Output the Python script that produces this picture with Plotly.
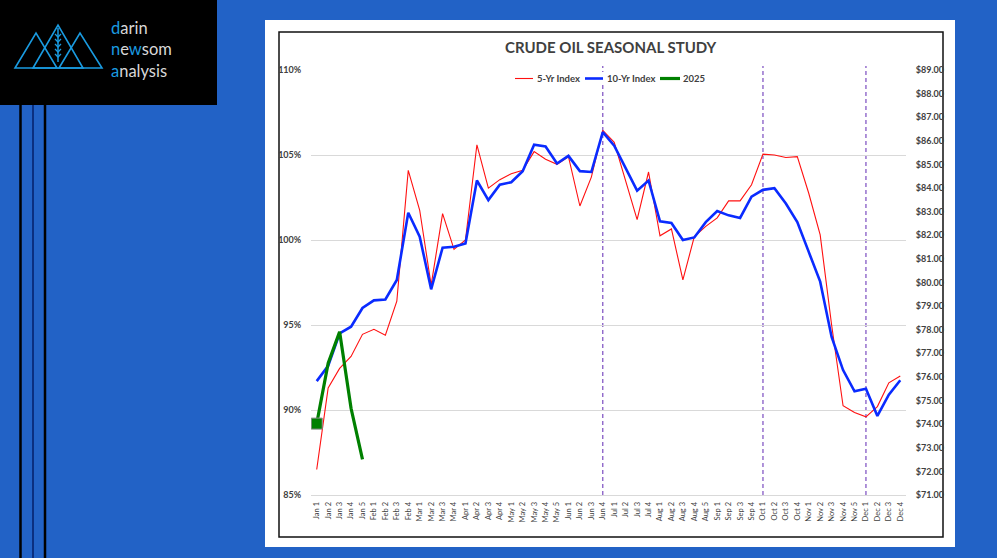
import plotly.graph_objects as go

weeks = ["Jan 1","Jan 2","Jan 3","Jan 4","Jan 5","Feb 1","Feb 2","Feb 3","Feb 4",
         "Mar 1","Mar 2","Mar 3","Mar 4","Apr 1","Apr 2","Apr 3","Apr 4",
         "May 1","May 2","May 3","May 4","May 5","Jun 1","Jun 2","Jun 3","Jun 4",
         "Jul 1","Jul 2","Jul 3","Jul 4","Aug 1","Aug 2","Aug 3","Aug 4","Aug 5",
         "Sep 1","Sep 2","Sep 3","Sep 4","Oct 1","Oct 2","Oct 3","Oct 4",
         "Nov 1","Nov 2","Nov 3","Nov 4","Nov 5","Dec 1","Dec 2","Dec 3","Dec 4"]

five_yr = [86.5, 91.3, 92.45, 93.15, 94.45, 94.75, 94.4, 96.4, 104.1, 101.75, 97.35, 101.55,
           99.45, 100.0, 105.6, 103.05, 103.55, 103.9, 104.1, 105.2, 104.75, 104.45, 104.9,
           102.0, 103.7, 106.45, 105.75, 103.5, 101.2, 104.0, 100.25, 100.65, 97.65, 100.2,
           100.8, 101.3, 102.3, 102.3, 103.25, 105.05, 105.0, 104.85, 104.9, 102.75, 100.3,
           95.0, 90.25, 89.85, 89.6, 90.2, 91.6, 92.0]

ten_yr = [91.7, 92.6, 94.5, 94.9, 96.0, 96.45, 96.5, 97.65, 101.6, 100.2, 97.1, 99.55, 99.6,
          99.8, 103.5, 102.35, 103.25, 103.4, 104.05, 105.6, 105.5, 104.5, 104.95, 104.05,
          104.0, 106.35, 105.55, 104.2, 102.9, 103.5, 101.1, 101.0, 100.0, 100.15, 101.05,
          101.7, 101.45, 101.3, 102.55, 102.95, 103.05, 102.15, 101.05, 99.3, 97.55, 94.3,
          92.35, 91.1, 91.25, 89.65, 90.9, 91.75]

y2025 = [89.2, 92.75, 94.6, 90.1, 87.1]

marker_weeks = ["Jun 4", "Oct 1", "Dec 1"]

pct_ticks = [85, 90, 95, 100, 105, 110]
pct_labels = ["85%", "90%", "95%", "100%", "105%", "110%"]
usd_ticks = list(range(71, 90))
usd_labels = ["$%d.00" % v for v in usd_ticks]

W, H = 997, 558
L, R, T, B = 311, 906, 70, 495


def px(x):
    return (x - L) / (R - L)


def py(y):
    return (B - y) / (B - T)


fig = go.Figure()

fig.add_trace(go.Scatter(x=weeks, y=five_yr, mode="lines", name="5-Yr Index",
                         line=dict(color="#FF1010", width=1.1), showlegend=False))
fig.add_trace(go.Scatter(x=weeks, y=ten_yr, mode="lines", name="10-Yr Index",
                         line=dict(color="#0A2BFF", width=2.6), showlegend=False))
fig.add_trace(go.Scatter(x=weeks[:len(y2025)], y=y2025, mode="lines", name="2025",
                         line=dict(color="#008000", width=3.2), showlegend=False))
fig.add_trace(go.Scatter(x=weeks[:1], y=y2025[:1], mode="markers", name="2025 start",
                         marker=dict(symbol="square", size=11, opacity=1,
                                     color="#008000", line=dict(color="#8a8a8a", width=1)),
                         showlegend=False))
fig.add_trace(go.Scatter(x=[weeks[0]], y=[usd_ticks[0]], yaxis="y2", mode="markers",
                         marker=dict(opacity=0), showlegend=False, hoverinfo="skip"))

shapes = []
shapes.append(dict(type="rect", xref="paper", yref="paper", x0=px(265), x1=px(955),
                   y0=py(547), y1=py(20), fillcolor="white", line=dict(width=0), layer="below"))
shapes.append(dict(type="rect", xref="paper", yref="paper", x0=px(279), x1=px(943),
                   y0=py(537), y1=py(32), fillcolor="rgba(0,0,0,0)",
                   line=dict(color="#111111", width=1.5), layer="below"))
shapes.append(dict(type="rect", xref="paper", yref="paper", x0=px(0), x1=px(217),
                   y0=py(105), y1=py(0), fillcolor="#000000", line=dict(width=0), layer="below"))
for xv, col, w in [(20.5, "#000000", 2.5), (33, "#0b2f80", 2), (45, "#000000", 2.5)]:
    shapes.append(dict(type="line", xref="paper", yref="paper", x0=px(xv), x1=px(xv),
                       y0=py(558), y1=py(105), line=dict(color=col, width=w), layer="below"))
logo_col = "#1a9be0"
for (a, b, c) in [((15, 68), (36, 33), (57, 68)), ((33, 68), (58, 25), (83, 68)),
                  ((59, 68), (80, 33), (102, 68))]:
    path = "M {},{} L {},{} L {},{} Z".format(px(a[0]), py(a[1]), px(b[0]), py(b[1]),
                                              px(c[0]), py(c[1]))
    shapes.append(dict(type="path", xref="paper", yref="paper", path=path,
                       line=dict(color=logo_col, width=1.6), layer="below"))
shapes.append(dict(type="line", xref="paper", yref="paper", x0=px(58), x1=px(58),
                   y0=py(62), y1=py(28), line=dict(color=logo_col, width=1.5), layer="below"))
for yy in [34, 39, 44, 49, 54]:
    path = "M {},{} L {},{} L {},{}".format(px(55), py(yy), px(58), py(yy + 3), px(61), py(yy))
    shapes.append(dict(type="path", xref="paper", yref="paper", path=path,
                       line=dict(color=logo_col, width=1.3), layer="below"))

for wk in marker_weeks:
    shapes.append(dict(type="line", xref="x", yref="paper", x0=wk, x1=wk, y0=0, y1=py(66),
                       line=dict(color="#7b4cc0", width=1.2, dash="4px,3px"), layer="below"))

shapes.append(dict(type="rect", xref="paper", yref="paper", x0=px(511), x1=px(706),
                   y0=py(85), y1=py(72), fillcolor="white", line=dict(width=0), layer="above"))
for (x0, x1, col, w) in [(515, 533, "#FF1010", 1.1), (585, 603, "#0A2BFF", 2.6),
                         (660, 680, "#008000", 3.2)]:
    shapes.append(dict(type="line", xref="paper", yref="paper", x0=px(x0), x1=px(x1),
                       y0=py(78.5), y1=py(78.5), line=dict(color=col, width=w), layer="above"))

annotations = []
for (xs, txt) in [(535, "5-Yr Index"), (605, "10-Yr Index"), (681, "2025")]:
    annotations.append(dict(xref="paper", yref="paper", x=px(xs), y=py(78.5), text=txt,
                            showarrow=False, xanchor="left", yanchor="middle",
                            font=dict(family="Lato", size=9.5, color="#404040", weight="bold")))
annotations.append(dict(xref="paper", yref="paper", x=px(611), y=py(47),
                        text="CRUDE OIL SEASONAL STUDY", showarrow=False,
                        xanchor="center", yanchor="middle",
                        font=dict(family="Lato", size=15, color="#404040", weight="bold")))
blue = "#1a9be0"
gray = "#d8d8d8"
logo_text = ("<span style='color:%s'>d</span>arin<br>"
             "<span style='color:%s'>n</span>e<span style='color:%s'>w</span>som<br>"
             "<span style='color:%s'>a</span>nalysis") % (blue, blue, blue, blue)
annotations.append(dict(xref="paper", yref="paper", x=px(109), y=py(50), text=logo_text,
                        showarrow=False, xanchor="left", yanchor="middle", align="left",
                        font=dict(family="Lato", size=16.5, color=gray)))

fig.update_layout(
    width=W, height=H,
    margin=dict(l=L, r=W - R, t=T, b=H - B, pad=0),
    paper_bgcolor="#2262C6",
    plot_bgcolor="white",
    shapes=shapes,
    annotations=annotations,
    xaxis=dict(type="category", range=[-0.5, len(weeks) - 0.5], tickangle=-90,
               tickfont=dict(family="Lato", size=7.5, color="#404040"),
               showgrid=False, zeroline=False, showline=True, linecolor="#d9d9d9",
               ticks="outside", ticklen=3, tickcolor="rgba(0,0,0,0)", fixedrange=True),
    yaxis=dict(range=[85, 110], tickmode="array", tickvals=pct_ticks, ticktext=pct_labels,
               tickfont=dict(family="Lato", size=9, color="#404040", weight="bold"),
               showgrid=True, gridcolor="#d9d9d9", gridwidth=1, zeroline=False,
               showline=False, ticks="outside", ticklen=7, tickcolor="rgba(0,0,0,0)"),
    yaxis2=dict(range=[71, 89], tickmode="array", tickvals=usd_ticks, ticktext=usd_labels,
                overlaying="y", side="right", showgrid=False, zeroline=False,
                tickfont=dict(family="Lato", size=9, color="#404040", weight="bold"),
                ticks="outside", ticklen=7, tickcolor="rgba(0,0,0,0)"),
)

fig.write_html("out.html", config={"displayModeBar": False},
               post_script="document.body.style.margin='0';document.body.style.overflow='hidden';")
